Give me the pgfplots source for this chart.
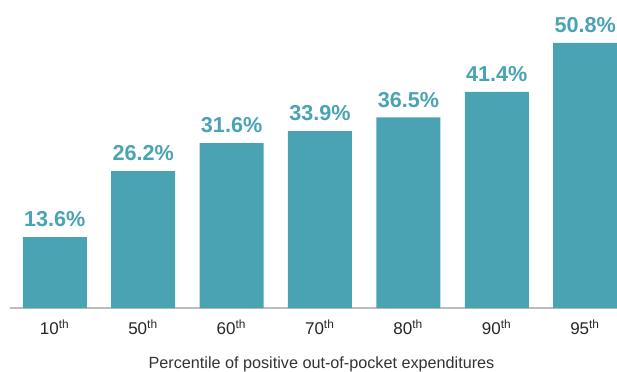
\documentclass[border=0pt]{standalone}
\usepackage{pgfplots}
\pgfplotsset{compat=1.18}
\usepackage{fontspec}
\setmainfont{Liberation Sans}
\definecolor{barteal}{HTML}{4AA3B3}
\definecolor{basegray}{HTML}{BDBDBD}
\begin{document}
\begin{tikzpicture}
\useasboundingbox (-5pt,-31.5pt) rectangle (303.5pt,154pt);
\begin{axis}[
  scale only axis,
  width=303.5pt, height=154pt,
  xmin=-0.507, xmax=6.36,
  ymin=0, ymax=59,
  axis x line=bottom, axis y line=none,
  x axis line style={basegray, line width=0.6pt, -},
  xtick={0,1,2,3,4,5,6},
  xticklabels={10\textsuperscript{th},50\textsuperscript{th},60\textsuperscript{th},70\textsuperscript{th},80\textsuperscript{th},90\textsuperscript{th},95\textsuperscript{th}},
  major tick length=0pt,
  xticklabel style={font=\fontsize{8.5}{10}\selectfont, text=black!85, yshift=-2.5pt},
  xlabel={Percentile of positive out-of-pocket expenditures},
  xlabel style={font=\fontsize{8.1}{10}\selectfont, text=black!80, yshift=-4.5pt, xshift=4pt},
  ybar, bar width=32pt,
  nodes near coords={\pgfmathprintnumber[fixed,precision=1,fixed zerofill,assume math mode=true]{\pgfplotspointmeta}\%},
  nodes near coords style={font=\fontsize{10.8}{13}\selectfont\bfseries, text=barteal, anchor=south, yshift=1.5pt},
]
\addplot[fill=barteal, draw=none] coordinates {(0,13.6) (1,26.2) (2,31.6) (3,33.9) (4,36.5) (5,41.4) (6,50.8)};
\end{axis}
\end{tikzpicture}
\end{document}
